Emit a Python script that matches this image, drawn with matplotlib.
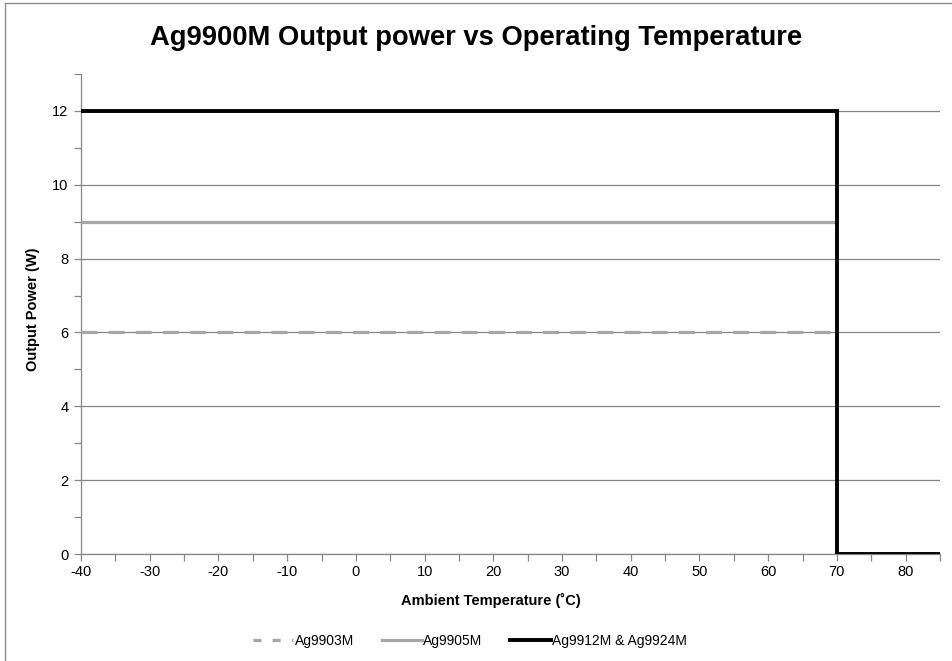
import matplotlib
matplotlib.use("Agg")
import matplotlib.pyplot as plt
from matplotlib.lines import Line2D
from matplotlib.patches import Rectangle

# Data
temp_low = [-40, 70]
p_9903 = [6, 6]
p_9905 = [9, 9]
temp_12 = [-40, 70, 70, 85]
p_12 = [12, 12, 0, 0]
labels = ["Ag9903M", "Ag9905M", "Ag9912M & Ag9924M"]
x_ticks = [-40, -30, -20, -10, 0, 10, 20, 30, 40, 50, 60, 70, 80]
y_ticks = [0, 2, 4, 6, 8, 10, 12]

plt.rcParams['font.family'] = ['Liberation Sans', 'DejaVu Sans']

fig = plt.figure(figsize=(9.52, 6.61), dpi=100)
fig.patches.append(Rectangle((5/952, -0.1), 1.2, 1 - 3/661 + 0.1, transform=fig.transFigure,
                             fill=False, edgecolor='#8c8c8c', linewidth=1.0))

ax = fig.add_axes([81/952, 1 - 554/661, (940 - 81)/952, (554 - 74)/661])

gray = '#a6a6a6'
l1, = ax.plot(temp_low, p_9903, color=gray, lw=2.3, dashes=(5, 3.5), solid_capstyle='butt', zorder=3)
l2, = ax.plot(temp_low, p_9905, color=gray, lw=2.3, solid_capstyle='butt', zorder=3)
l3, = ax.plot(temp_12, p_12, color='black', lw=2.8, solid_joinstyle='miter', zorder=4)

ax.set_xlim(-40, 85)
ax.set_ylim(0, 13)
ax.set_xticks(x_ticks)
ax.set_xticks(range(-40, 86, 5), minor=True)
ax.set_yticks(y_ticks)
ax.set_yticks(range(1, 14, 2), minor=True)
ax.grid(axis='y', which='major', color='#868686', lw=0.9)
ax.set_axisbelow(True)

for s in ['top', 'right']:
    ax.spines[s].set_visible(False)
for s in ['left', 'bottom']:
    ax.spines[s].set_color('#868686')
    ax.spines[s].set_linewidth(0.9)

ax.tick_params(which='both', direction='out', color='#868686', width=0.9, labelsize=10.5,
               labelcolor='black')
ax.tick_params(which='major', length=5, pad=3)
ax.tick_params(which='minor', length=5)
ax.tick_params(axis='y', which='major', length=5, pad=4)
ax.set_xticklabels([str(v) for v in x_ticks])
ax.set_yticklabels([str(v) for v in y_ticks])

ax.set_xlabel("Ambient Temperature (˚C)", fontsize=10.5, fontweight='bold')
ax.xaxis.set_label_coords((491 - 81) / 859, -0.082)
ax.set_ylabel("Output Power (W)", fontsize=10.5, fontweight='bold')
ax.yaxis.set_label_coords(-(81 - 40) / 859, 0.51)

fig.text(0.5, 1 - 38/661, "Ag9900M Output power vs Operating Temperature", ha='center', va='center',
         fontsize=19.7, fontweight='bold')

handles = [Line2D([], [], color=gray, lw=2.3, dashes=(2.5, 3.5)),
           Line2D([], [], color=gray, lw=2.3),
           Line2D([], [], color='black', lw=2.8)]
fig.legend(handles, labels, loc='center', bbox_to_anchor=(470/952, 1 - 641/661), ncol=3, frameon=False,
           handlelength=2.9, handletextpad=0.1, columnspacing=2.0,
           prop={'size': 10})

fig.savefig("out.png", dpi=100)
